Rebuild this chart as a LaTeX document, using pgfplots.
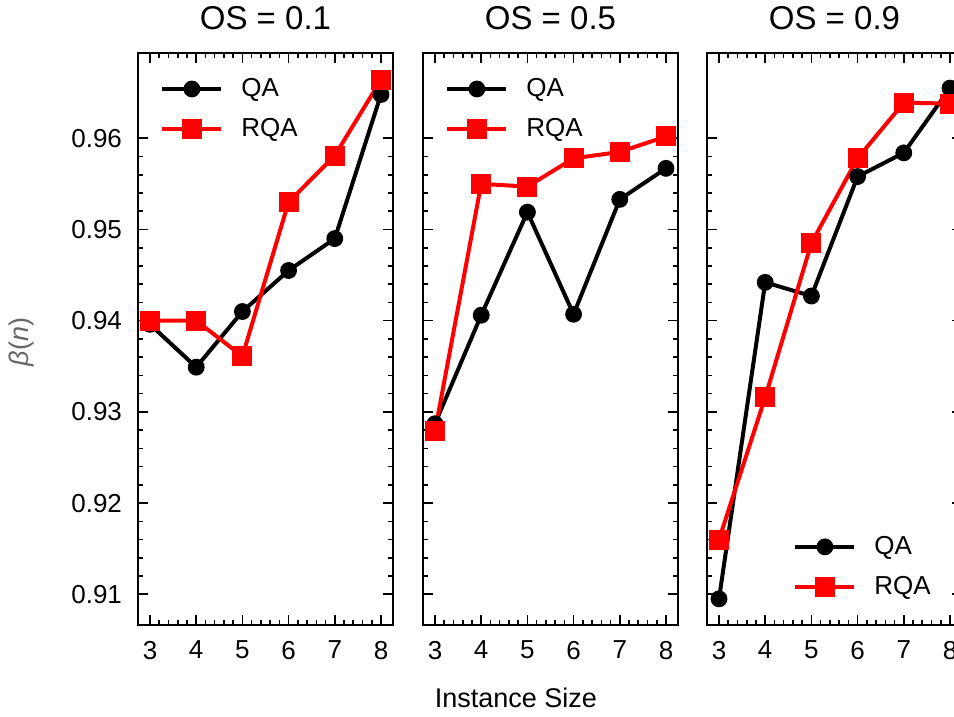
\documentclass[border=0pt]{standalone}
\usepackage{fontspec}
\setmainfont{Liberation Sans}
\usepackage{pgfplots}
\pgfplotsset{compat=1.18}
\definecolor{qared}{RGB}{255,0,0}
\pgfplotsset{
  panel/.style={
    scale only axis,
    width=127.5pt, height=286pt,
    xmin=2.74, xmax=8.26,
    ymin=0.90663, ymax=0.96935,
    xtick={3,4,5,6,7,8},
    ytick={0.91,0.92,0.93,0.94,0.95,0.96},
    minor x tick num=4,
    minor y tick num=4,
    tick align=inside,
    xtick pos=both, ytick pos=both,
    major tick length=5pt,
    minor tick length=2.5pt,
    axis line style={line width=1pt},
    every tick/.style={black, line width=0.8pt},
    /pgf/number format/assume math mode=true,
    ticklabel style={font=\fontsize{13}{15}\selectfont},
    xticklabel style={yshift=-4.5pt},
    yticklabel style={xshift=-4.5pt,/pgf/number format/fixed,/pgf/number format/precision=2,/pgf/number format/fixed zerofill},
    title style={at={(0.5,1)}, anchor=base, yshift=5.5pt, font=\fontsize{16.5}{19}\selectfont},
    legend cell align=left,
    legend style={draw=none, fill=none, inner sep=0pt, row sep=5.5pt, column sep=7pt,
      font=\fontsize{13}{15}\selectfont},
    legend image code/.code={\draw[mark repeat=2,mark phase=2,#1] plot coordinates {(0pt,0pt)(14.75pt,0pt)(29.5pt,0pt)};},
    clip=false,
  },
  qa/.style={black, line width=2pt, mark=*, mark size=3.2pt, mark options={solid}},
  rqa/.style={qared, line width=2pt, mark=square*, mark size=4pt, mark options={solid}},
}
\begin{document}
\begin{tikzpicture}[x=1pt,y=1pt]
\useasboundingbox (0,0) rectangle (477,358.5);
\begin{scope}
\clip (0,0) rectangle (477,358.5);
\begin{axis}[panel, at={(69pt,46pt)}, anchor=south west,
  title={OS = 0.1},
  ylabel={\textit{β}(\textit{n})},
  ylabel style={at={(axis description cs:-0.455,0.495)}, anchor=center, rotate=0, color=black!60, font=\fontsize{13.5}{16}\selectfont},
  legend style={at={(0,1)}, anchor=north west, xshift=11pt, yshift=-10.5pt}]
\addplot[qa] coordinates {(3,0.9396)(4,0.9349)(5,0.9410)(6,0.9455)(7,0.9490)(8,0.9648)};
\addlegendentry{QA}
\addplot[rqa] coordinates {(3,0.9400)(4,0.9400)(5,0.9361)(6,0.9530)(7,0.9581)(8,0.9664)};
\addlegendentry{RQA}
\end{axis}
\begin{axis}[panel, at={(211.5pt,46pt)}, anchor=south west,
  title={OS = 0.5},
  yticklabels={},
  xlabel={Instance Size},
  xlabel style={at={(axis description cs:0.364,-0.145)}, anchor=base, font=\fontsize{13.5}{16}\selectfont},
  legend style={at={(0,1)}, anchor=north west, xshift=11pt, yshift=-10.5pt}]
\addplot[qa] coordinates {(3,0.9287)(4,0.9406)(5,0.9519)(6,0.9407)(7,0.9533)(8,0.9567)};
\addlegendentry{QA}
\addplot[rqa] coordinates {(3,0.9279)(4,0.9550)(5,0.9547)(6,0.9578)(7,0.9585)(8,0.9602)};
\addlegendentry{RQA}
\end{axis}
\begin{axis}[panel, at={(353.5pt,46pt)}, anchor=south west,
  title={OS = 0.9},
  yticklabels={},
  legend style={at={(0,0)}, anchor=south west, xshift=43pt, yshift=11.5pt}]
\addplot[qa] coordinates {(3,0.9095)(4,0.9442)(5,0.9427)(6,0.9558)(7,0.9584)(8,0.9655)};
\addlegendentry{QA}
\addplot[rqa] coordinates {(3,0.9160)(4,0.9316)(5,0.9485)(6,0.9578)(7,0.9639)(8,0.9638)};
\addlegendentry{RQA}
\end{axis}
\end{scope}
\end{tikzpicture}
\end{document}
